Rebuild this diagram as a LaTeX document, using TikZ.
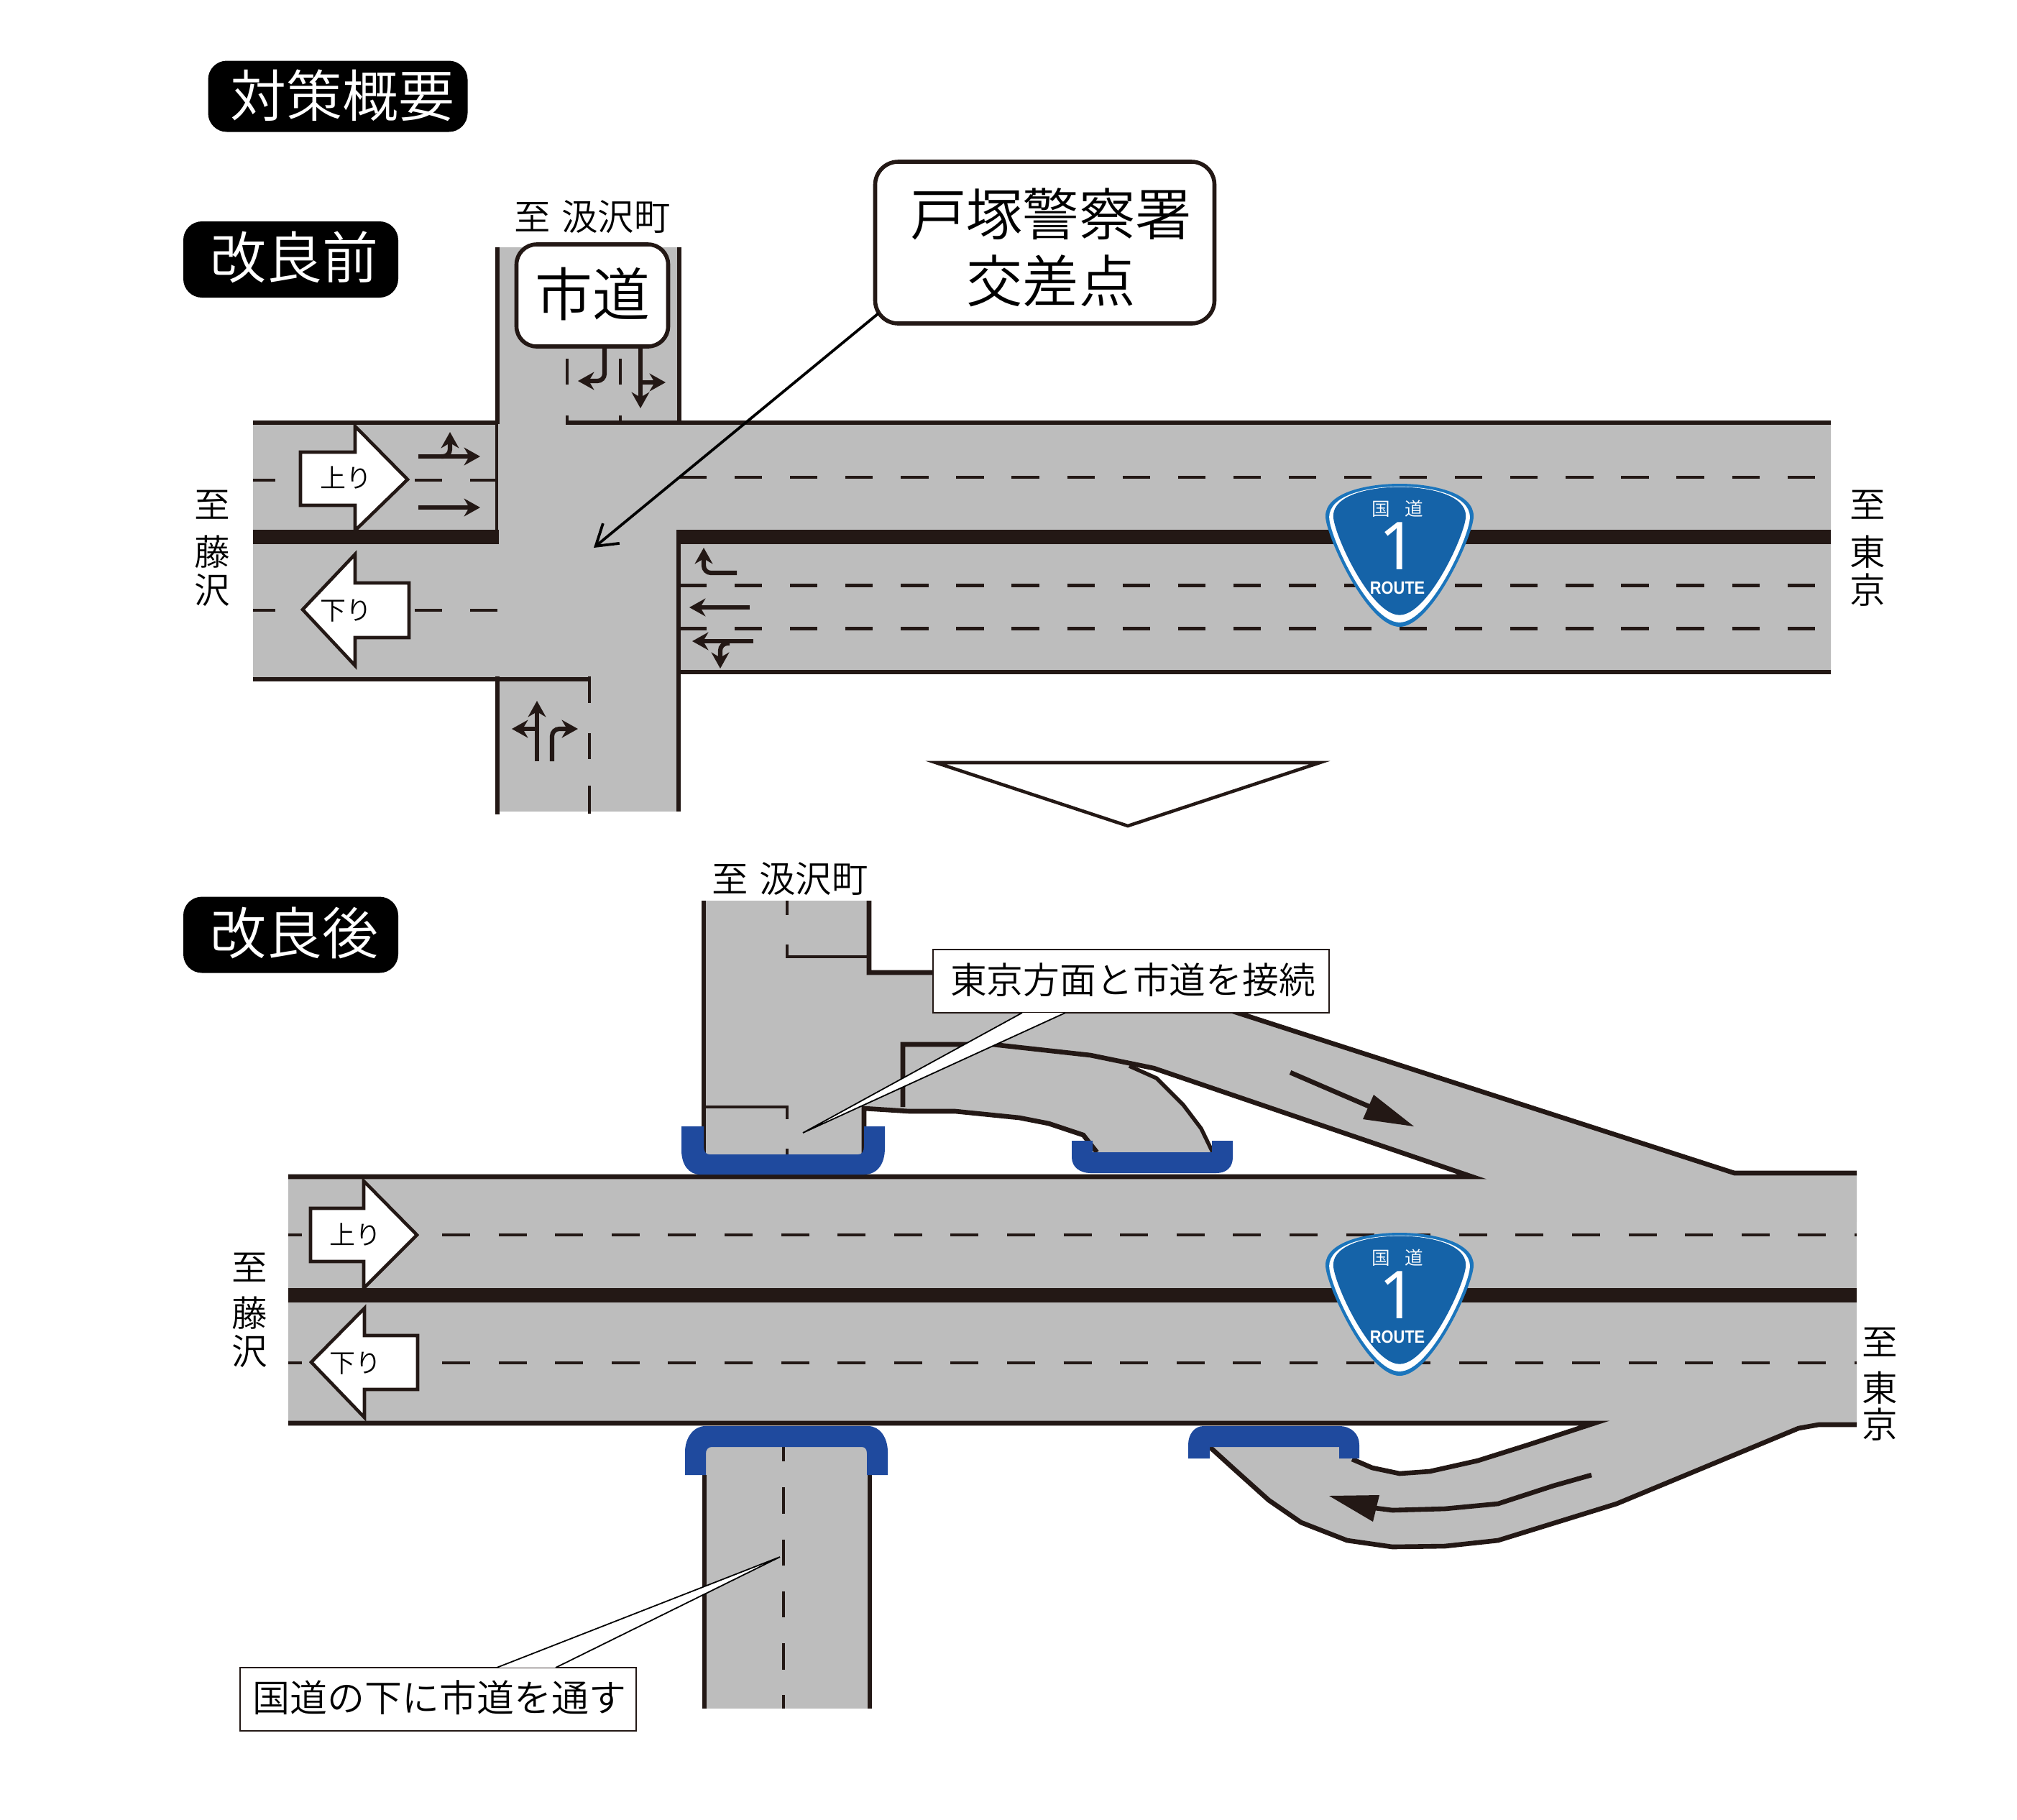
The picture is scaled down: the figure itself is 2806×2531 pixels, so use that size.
\documentclass[tikz,border=0pt]{standalone}
\usepackage{fontspec}
\usetikzlibrary{arrows.meta,calc}
\setmainfont{Noto Sans CJK JP DemiLight}
\newfontfamily\latinf[FakeStretch=0.88]{Liberation Sans}
\newfontfamily\numf{Noto Sans}
\definecolor{roadgray}{HTML}{BDBDBD}
\definecolor{ink}{HTML}{231815}
\definecolor{bridge}{HTML}{1F4A9E}
\definecolor{shieldout}{HTML}{1B75BC}
\definecolor{shieldin}{HTML}{1563A8}
\newcommand{\fs}[1]{\fontsize{#1}{#1}\selectfont}
\newcommand{\shieldshape}{(0,-77) .. controls (45,-77) and (103,-65) .. (103,-32) .. controls (103,-5) and (45,122) .. (0,122) .. controls (-45,122) and (-103,-5) .. (-103,-32) .. controls (-103,-65) and (-45,-77) .. (0,-77) -- cycle}
\newcommand{\routeshield}[3]{%
  \begin{scope}[shift={(#1,#2)}]
    \fill[shieldout] \shieldshape;
    \fill[white] [scale=.95] \shieldshape;
    \fill[shieldin] [scale=.895,yshift=1] \shieldshape;
    \node[txt,text=white,font=\fs{6.4}] (#3a) at (-3,-42) {国\hspace{5pt}道};
    \node[txt,text=white,font=\numf\fs{23}] (#3b) at (-2,10) {1};
    \node[txt,text=white,font=\latinf\bfseries\fs{6.2}] (#3c) at (-3,68) {ROUTE};
  \end{scope}}
\tikzset{
  x=0.25pt,y=-0.25pt,
  txt/.style={inner sep=0pt,outer sep=0pt,text=black,align=center},
  edge6/.style={draw=ink,line width=1.65pt,line join=miter},
  edge4/.style={draw=ink,line width=1pt},
  median/.style={draw=ink,line width=4.8pt},
  lane/.style={draw=ink,line width=1.05pt,dash pattern=on 9.55pt off 9.72pt},
  lanetwo/.style={draw=ink,line width=1.05pt,dash pattern=on 9.75pt off 9.9pt},
  stub/.style={draw=ink,line width=1.05pt},
  road/.style={fill=roadgray},
  dirarrow/.style={draw=ink,fill=white,line width=1.15pt,line join=miter,miter limit=10},
  turn/.style={draw=ink,line width=1.55pt,rounded corners=2.5pt,-{Stealth[length=5.6pt,width=6.2pt,inset=1.8pt]}},
  blackbox/.style={fill=black,rounded corners=6.5pt,inner sep=0pt,outer sep=0pt,text=white,align=center},
  signbox/.style={draw=ink,fill=white,line width=1.4pt,rounded corners=7pt,inner sep=0pt},
  notebox/.style={draw=ink,fill=white,line width=.4pt,inner sep=0pt},
  wedge/.style={fill=white},
  wedgeline/.style={draw=black,line width=.45pt,line join=miter},
  bridgefill/.style={fill=bridge},
}
\begin{document}
\begin{tikzpicture}
\useasboundingbox (0,0) rectangle (2806,2531);
\fill[white] (0,0) rectangle (2806,2531);

% ---------- headings
\node[blackbox,minimum width=90.25pt,minimum height=24.75pt] (h0) at (470,134) {};
\node[txt,text=white,font=\fs{19.5}] (h0t) at (476,133) {対策概要};
\node[blackbox,minimum width=74.75pt,minimum height=26.5pt] (h1) at (404.5,361) {};
\node[txt,text=white,font=\fs{19.5}] (h1t) at (409,358) {改良前};
\node[blackbox,minimum width=74.75pt,minimum height=26.5pt] (h2) at (404.5,1300.5) {};
\node[txt,text=white,font=\fs{19.5}] (h2t) at (409,1298) {改良後};

% ---------- BEFORE: road surface
\fill[road] (692,344)--(945,344)--(945,588)--(2547,588)--(2547,935)--(945,935)--(945,1129)--(692,1129)--(692,945)--(352,945)--(352,588)--(692,588)--cycle;
% edges
\draw[edge6] (692,344)--(692,590);
\draw[edge4] (691,588)--(691,747);
\draw[edge6] (352,588)--(692,588);
\draw[median] (352,747)--(694,747);
\draw[edge6] (352,945)--(818,945);
\draw[edge6] (692,941)--(692,1133);
\draw[edge6] (945,344)--(945,588);
\draw[edge6] (787,588)--(2547,588);
\draw[edge6] (944,738)--(944,1129);
\draw[median] (941,747)--(2547,747);
\draw[edge6] (944,935)--(2547,935);
% lanes
\draw[lane] (945,664)--(2547,664);
\draw[lane] (945,814.5)--(2547,814.5);
\draw[lane] (945,874.5)--(2547,874.5);
\draw[stub] (352,668)--(383,668) (577,668)--(615,668) (654,668)--(690,668);
\draw[stub] (352,849)--(383,849) (577,849)--(615,849) (654,849)--(692,849);
\draw[stub] (820,941)--(820,978) (820,1020)--(820,1056) (820,1093)--(820,1132);
\draw[stub] (789,499)--(789,535) (789,578)--(789,588);
\draw[stub] (863,499)--(863,535) (863,578)--(863,588);
% white direction arrows
\draw[dirarrow] (418,629)--(494,629)--(494,593)--(567,667)--(494,738)--(494,703)--(418,703)--cycle;
\node[txt,font=\fs{9}] (up1) at (481,665) {上り};
\draw[dirarrow] (569,811)--(494,811)--(494,771)--(421,848)--(494,926)--(494,887)--(569,887)--cycle;
\node[txt,font=\fs{9}] (dn1) at (481,850) {下り};
% small turn arrows, west approach
\draw[turn] (582,635)--(668,635);
\draw[turn] (614,635) -- (626,635) -- (626,601);
\draw[turn] (582,706)--(668,706);
% north approach
\draw[turn] (841,484)--(841,530)--(804,530);
\draw[turn] (891,484)--(891,568);
\draw[turn] (891,532)--(926,532);
% east approach
\draw[turn] (1025,797)--(979,797)--(979,762);
\draw[turn] (1043,845)--(959,845);
\draw[turn] (1048,892)--(963,892);
\draw[turn] (1015,895)--(1002,895)--(1002,930);
% south approach
\draw[turn] (747,1059)--(747,975);
\draw[turn] (747,1014)--(712,1014);
\draw[turn] (768,1059)--(768,1014)--(804,1014);

% labels
\node[txt,font=\fs{12.6}] (toKP1) at (824,302) {至\hspace{4pt}汲沢町};
\node[signbox,minimum width=52.75pt,minimum height=35.5pt] (shido) at (824,411) {};
\node[txt,font=\fs{20}] (shidot) at (824,409) {市道};
\node[txt,font=\fs{12.4}] (fj1a) at (295,702) {至};
\node[txt,font=\fs{12.4}] (fj1b) at (295,768) {藤};
\node[txt,font=\fs{12.4}] (fj1c) at (295,821) {沢};
\node[txt,font=\fs{12.4}] (tk1a) at (2598,702) {至};
\node[txt,font=\fs{12.4}] (tk1b) at (2598,768) {東};
\node[txt,font=\fs{12.4}] (tk1c) at (2598,821) {京};

% shield
\routeshield{1947}{750}{sa}

% intersection sign + leader
\node[signbox,rounded corners=8pt,minimum width=118pt,minimum height=56.25pt] (kosaten) at (1453.5,337.5) {};
\node[txt,font=\fs{19.6}] (kosa1) at (1462,298) {戸塚警察署};
\node[txt,font=\fs{19.6}] (kosa2) at (1462,391) {交差点};
\coordinate (kstart) at (1222,436);
\coordinate (ktip) at (826,762);
\draw[draw=black,line width=.95pt,-{Straight Barb[length=7pt,width=9pt]}] (kstart)--(ktip);

% down triangle
\draw[draw=ink,fill=white,line width=1.15pt,line join=miter,miter limit=10] (1302,1061)--(1836,1061)--(1569,1149)--cycle;

% ---------- AFTER: road surface
\fill[road] (401,1637) rectangle (2583,1980);
\fill[road] (979,1253)--(1209,1253)--(1209,1353)--(1548,1353)--(2413,1632)--(2583,1632)--(2583,1700)--(2048,1637)--(1605,1486)--(1571,1483)--(1609,1500)--(1646,1537)--(1671,1570)--(1687,1603)--(1526,1603)--(1507,1579)--(1459,1563)--(1418,1555)--(1329,1546)--(1265,1546)--(1202,1542)--(1202,1606)--(979,1606)--cycle;
\fill[road] (2218,1980)--(2126,2010)--(2056,2032)--(1989,2047)--(1947,2050)--(1909,2042)--(1881,2030)--(1863,2013)--(1683,2013)--(1716,2043)--(1765,2087)--(1810,2118)--(1874,2143)--(1937,2152)--(2010,2151)--(2084,2143)--(2249,2092)--(2502,1987)--(2530,1982)--(2583,1982)--(2583,1900)--cycle;
\fill[road] (980,2013) rectangle (1210,2377);
% edges
\draw[edge6,line width=1.35pt] (979,1253)--(979,1606);
\draw[edge6] (1209,1253)--(1209,1353)--(1548,1353)--(2413,1632)--(2583,1632);
\draw[edge6,line width=1.2pt] (1095,1314)--(1095,1331)--(1209,1331);
\draw[stub] (1095,1253)--(1095,1273);
\draw[stub] (978,1540)--(1095,1540)--(1095,1557);
\draw[stub] (1095,1598)--(1095,1606);
\draw[edge6] (401,1637)--(2048,1637)--(1605,1486)--(1517,1468)--(1381,1453)--(1256,1453)--(1256,1540);
\draw[edge6] (1202,1606)--(1202,1542)--(1265,1546)--(1329,1546)--(1418,1555)--(1459,1563)--(1507,1579)--(1526,1603);
\draw[edge6,line width=1.35pt] (1571,1483)--(1609,1500)--(1646,1537)--(1671,1570)--(1687,1603);
\draw[median] (401,1802)--(2583,1802);
\draw[edge6] (1881,2030)--(1909,2042)--(1947,2050)--(1989,2047)--(2056,2032)--(2126,2010)--(2218,1980)--(401,1980);
\draw[edge6] (2583,1982)--(2530,1982)--(2502,1987)--(2249,2092)--(2084,2143)--(2010,2151)--(1937,2152)--(1874,2143)--(1810,2118)--(1765,2087)--(1716,2043)--(1683,2013);
\draw[edge6,line width=1.4pt] (980,2052)--(980,2377) (1210,2052)--(1210,2377);
% lanes
\draw[stub] (401,1718)--(420,1718) (401,1896)--(420,1896);
\draw[lanetwo] (615,1718)--(2583,1718);
\draw[lanetwo] (615,1896)--(2583,1896);
\draw[stub] (1090,2013)--(1090,2033) (1090,2069)--(1090,2106) (1090,2142)--(1090,2178) (1090,2214)--(1090,2250) (1090,2286)--(1090,2323) (1090,2358)--(1090,2377);
% bridges
\fill[bridgefill] (948,1567)--(948,1600) .. controls (948,1620) and (958,1634) .. (974,1634)--(1202,1634) .. controls (1220,1634) and (1231,1620) .. (1231,1597)--(1231,1567)--(1202,1567)--(1202,1595) .. controls (1202,1602) and (1199,1606) .. (1194,1606)--(987,1606) .. controls (982,1606) and (979,1602) .. (979,1595)--(979,1567)--cycle;
\fill[bridgefill] (1491,1587)--(1491,1610) .. controls (1491,1624) and (1503,1632) .. (1517,1632)--(1692,1632) .. controls (1706,1632) and (1715,1624) .. (1715,1610)--(1715,1587)--(1686,1587)--(1686,1603)--(1520,1603)--(1520,1587)--cycle;
\fill[bridgefill] (953,2052)--(953,2020) .. controls (953,2000) and (965,1984) .. (981,1984)--(1208,1984) .. controls (1224,1984) and (1235,2000) .. (1235,2020)--(1235,2052)--(1206,2052)--(1206,2022) .. controls (1206,2017) and (1204,2013) .. (1199,2013)--(990,2013) .. controls (985,2013) and (982,2017) .. (982,2022)--(982,2052)--cycle;
\fill[bridgefill] (1653,2029)--(1653,2010) .. controls (1653,1995) and (1662,1984) .. (1674,1984)--(1863,1984) .. controls (1880,1984) and (1891,1995) .. (1891,2010)--(1891,2029)--(1863,2029)--(1863,2013)--(1683,2013)--(1683,2029)--cycle;
% ramp arrows
\draw[edge6] (1795,1492)--(1911,1542);
\fill[ink] (1911,1523)--(1967,1567)--(1896,1557)--cycle;
\draw[edge6] (2214,2052)--(2161,2067)--(2084,2092)--(2010,2099)--(1937,2101)--(1905,2097);
\fill[ink] (1849,2081)--(1919,2080)--(1910,2117)--cycle;

% white direction arrows
\draw[dirarrow] (432,1681)--(506,1681)--(506,1643)--(580,1718)--(506,1792)--(506,1755)--(432,1755)--cycle;
\node[txt,font=\fs{9}] (up2) at (494,1717) {上り};
\draw[dirarrow] (581,1858)--(507,1858)--(507,1820)--(433,1895)--(507,1972)--(507,1933)--(581,1933)--cycle;
\node[txt,font=\fs{9}] (dn2) at (494,1897) {下り};
\routeshield{1947}{1792}{sb}

% labels
\node[txt,font=\fs{12.6}] (toKP2) at (1099,1223) {至\hspace{4pt}汲沢町};
\node[txt,font=\fs{12.4}] (fj2a) at (347,1763) {至};
\node[txt,font=\fs{12.4}] (fj2b) at (347,1827) {藤};
\node[txt,font=\fs{12.4}] (fj2c) at (347,1880) {沢};
\node[txt,font=\fs{12.4}] (tk2a) at (2615,1867) {至};
\node[txt,font=\fs{12.4}] (tk2b) at (2615,1931) {東};
\node[txt,font=\fs{12.4}] (tk2c) at (2615,1982) {京};

% callouts
\node[notebox,minimum width=137.75pt,minimum height=22pt] (note1) at (1573.5,1365) {};
\node[txt,font=\fs{12.7}] (note1t) at (1576,1363) {東京方面と市道を接続};
\coordinate (n1a) at (1422,1409);
\coordinate (n1b) at (1482,1409);
\coordinate (n1tip) at (1117,1576);
\fill[wedge] (n1a)--(n1tip)--(n1b)--cycle;
\draw[wedgeline] (n1a)--(n1tip)--(n1b);
\node[notebox,minimum width=137.75pt,minimum height=22pt] (note2) at (609.5,2364) {};
\node[txt,font=\fs{13}] (note2t) at (611,2362) {国道の下に市道を通す};
\coordinate (n2a) at (691,2320);
\coordinate (n2b) at (773,2320);
\coordinate (n2tip) at (1085,2166);
\fill[wedge] (n2a)--(n2tip)--(n2b)--cycle;
\draw[wedgeline] (n2a)--(n2tip)--(n2b);
\end{tikzpicture}
\end{document}
